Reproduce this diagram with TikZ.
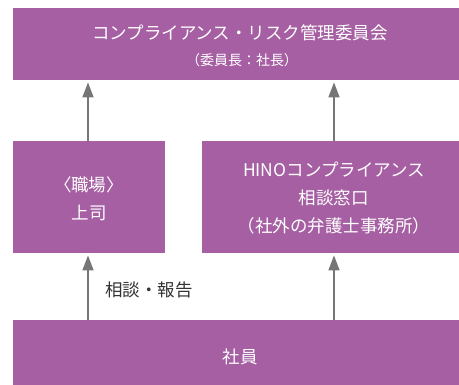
\documentclass[tikz,border=0pt]{standalone}
\usepackage{fontspec}
\setmainfont{Noto Sans CJK JP}
\usetikzlibrary{arrows.meta}
\definecolor{boxc}{HTML}{A55FA2}
\definecolor{arrc}{HTML}{767676}
\definecolor{txtc}{HTML}{333333}
\tikzset{
  box/.style={fill=boxc, draw=none, anchor=north west, inner sep=0pt},
  wtext/.style={text=white, inner sep=0pt, align=center, font=\fontsize{17.5}{28}\selectfont},
  small/.style={text=white, inner sep=0pt, font=\fontsize{14}{16}\selectfont},
  arr/.style={draw=arrc, line width=1.6pt, -{Triangle[width=11pt,length=15pt]}, shorten >=2pt},
  lbl/.style={text=txtc, inner sep=0pt, font=\fontsize{17.5}{20}\selectfont}
}
\begin{document}
\begin{tikzpicture}[x=1pt,y=-1pt]
\useasboundingbox (0,0) rectangle (459,385);
\node[box, minimum width=447pt, minimum height=72pt] (comm) at (13,8) {};
\node[box, minimum width=152pt, minimum height=112pt] (sup) at (13,141) {};
\node[box, minimum width=258pt, minimum height=112pt] (desk) at (202,141) {};
\node[box, minimum width=447pt, minimum height=66pt] (emp) at (13,320) {};

\node[wtext] (commt) at (240,33) {コンプライアンス・リスク管理委員会};
\node[small] (comms) at (242,60) {（委員長：社長）};
\node[wtext] (supt) at (89,198.5) {〈職場〉\\上司};
\node[wtext] (deskt) at (334,198.5) {HINOコンプライアンス\\相談窓口\\（社外の弁護士事務所）};
\node[wtext] (empt) at (240,357) {社員};

\coordinate (a1) at (88,320);
\coordinate (a2) at (334,320);
\draw[arr] (a1) -- (a1 |- sup.south);
\draw[arr] (a2) -- (a2 |- desk.south);
\draw[arr] (sup.north -| a1) -- (a1 |- comm.south);
\draw[arr] (desk.north -| a2) -- (a2 |- comm.south);

\node[lbl, anchor=west] (rep) at (105,290) {相談・報告};
\end{tikzpicture}
\end{document}
